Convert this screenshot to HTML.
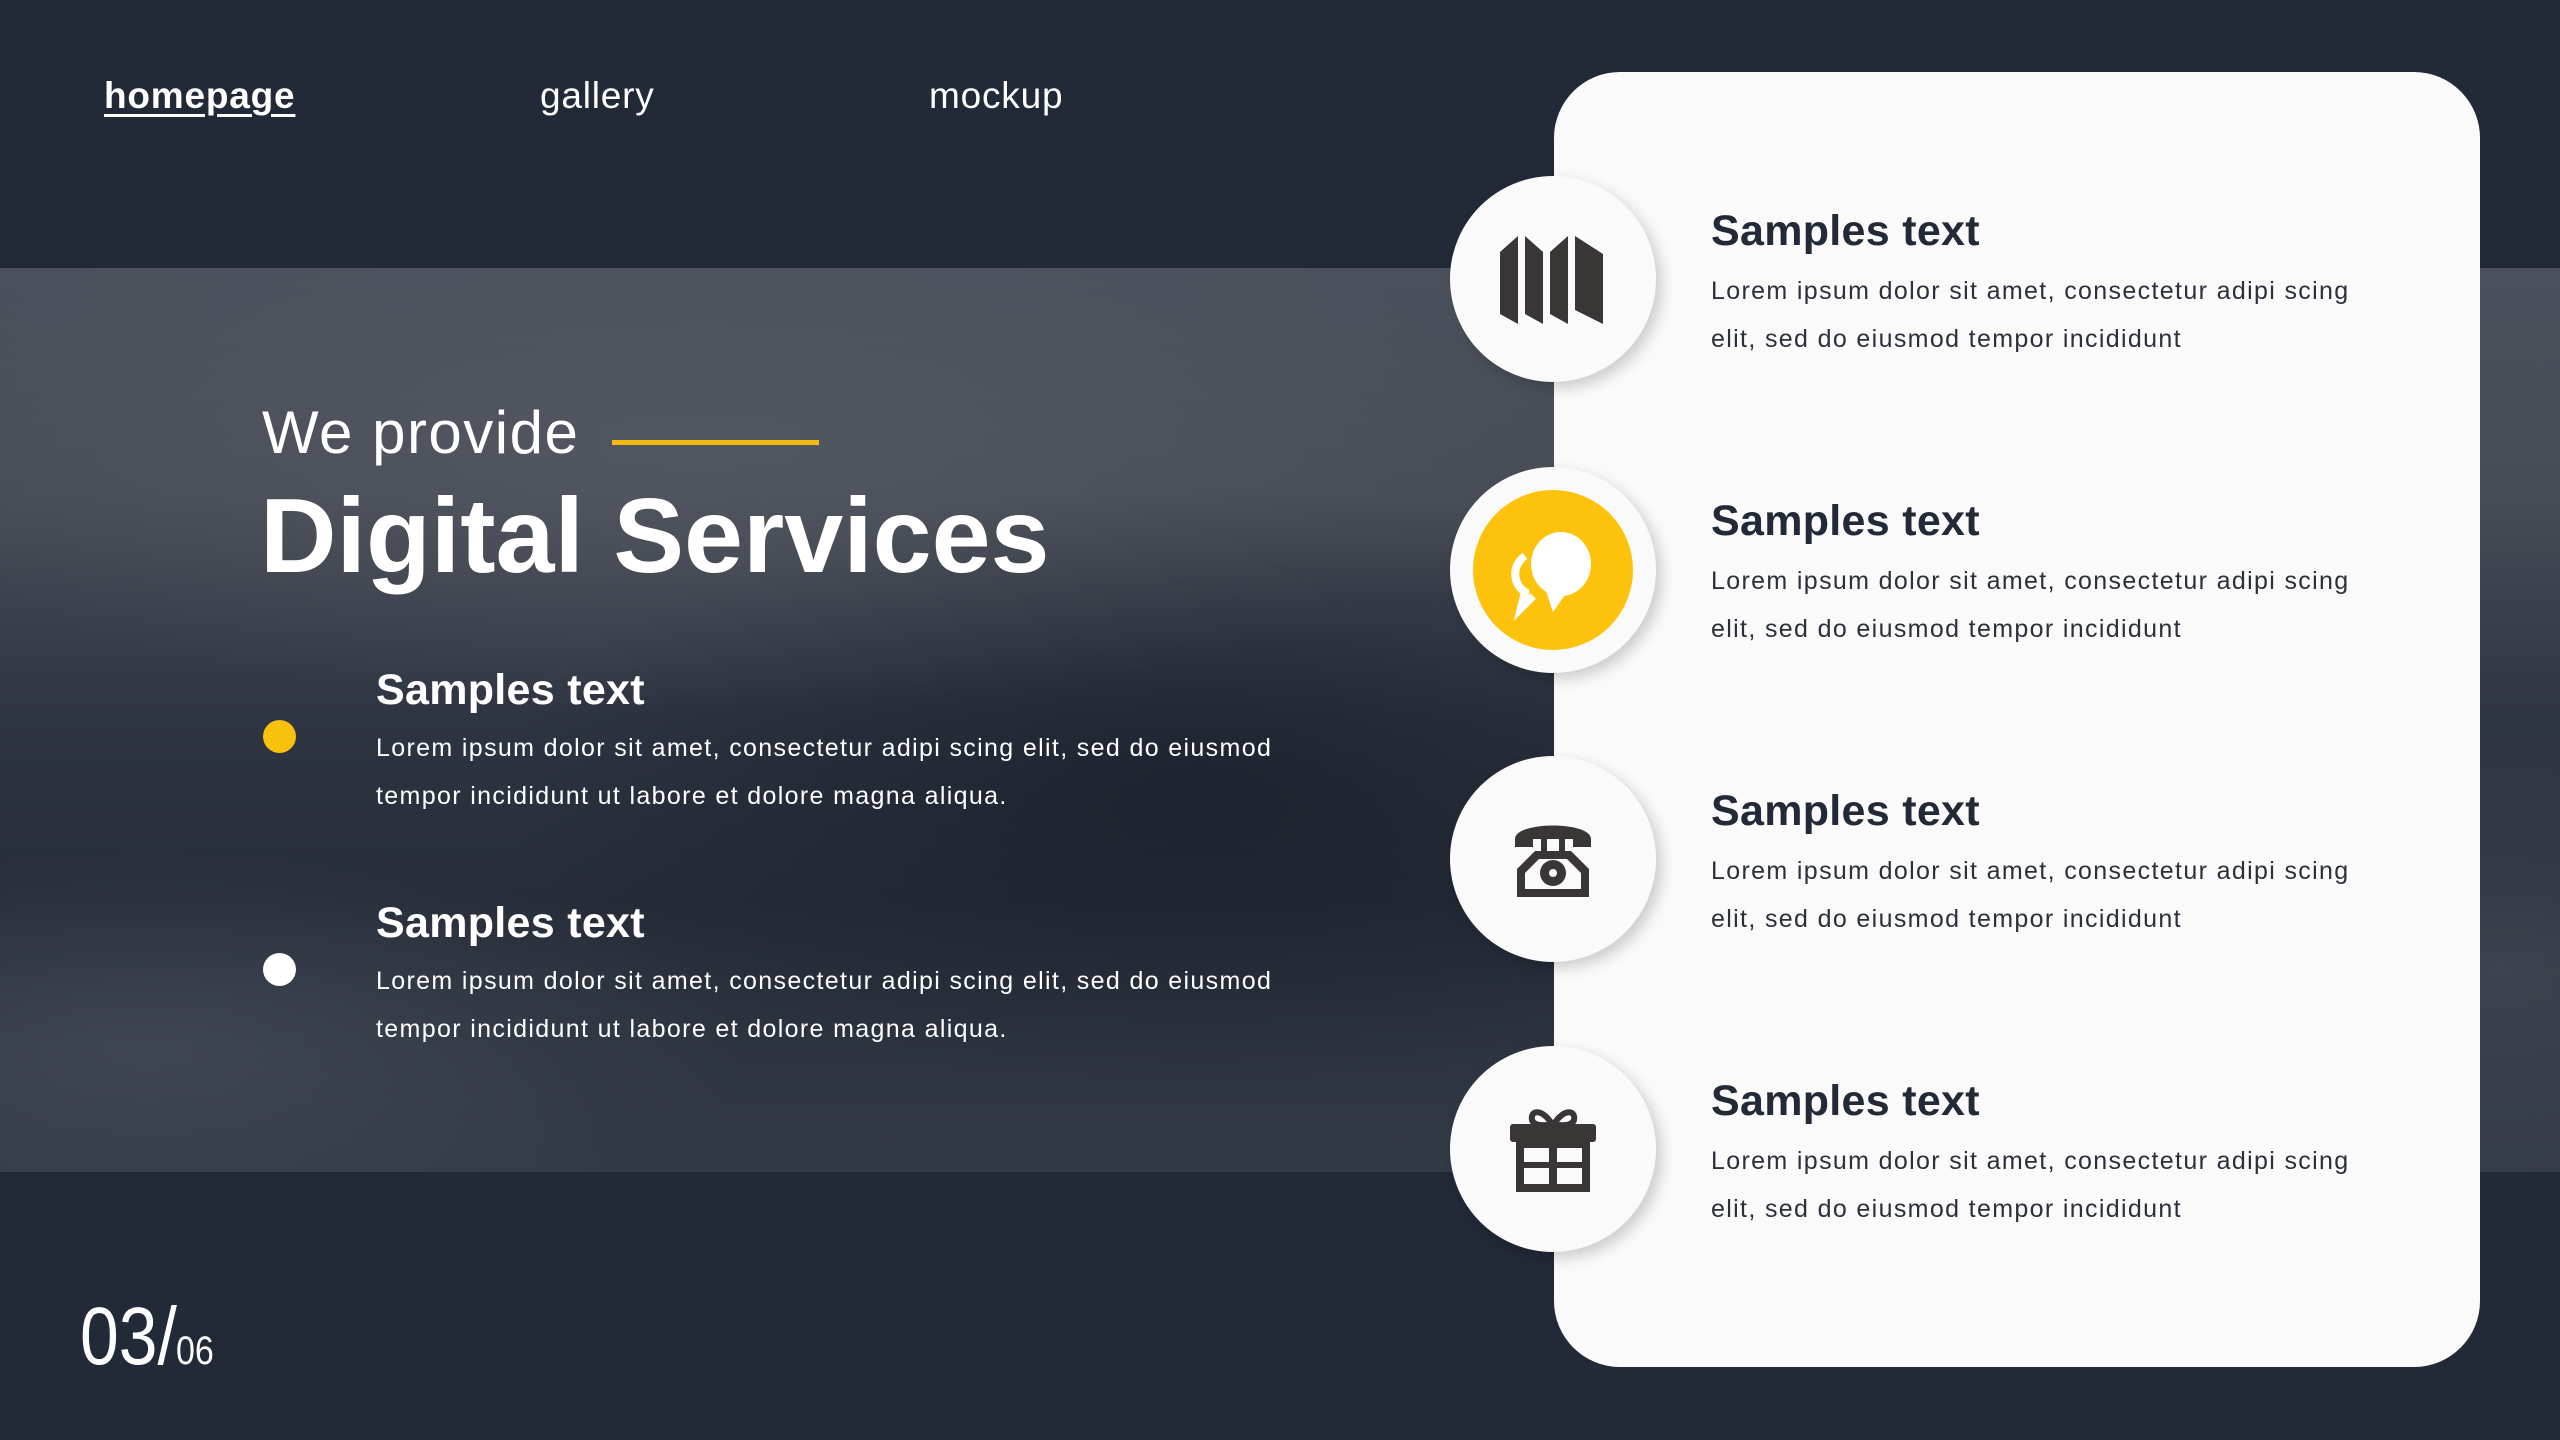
<!DOCTYPE html>
<html><head><meta charset="utf-8"><style>
*{margin:0;padding:0;box-sizing:border-box}
body{width:2560px;height:1440px;overflow:hidden;background:#222937;font-family:"Liberation Sans",sans-serif;position:relative}
.abs{position:absolute;white-space:nowrap}
.photo{position:absolute;left:0;top:268px;width:2560px;height:904px;
background:
radial-gradient(ellipse 900px 260px at 700px 180px,rgba(90,94,104,.55),rgba(0,0,0,0)),
radial-gradient(ellipse 700px 300px at 1200px 520px,rgba(20,26,36,.6),rgba(0,0,0,0)),
radial-gradient(ellipse 600px 200px at 150px 780px,rgba(80,88,100,.5),rgba(0,0,0,0)),
radial-gradient(ellipse 500px 250px at 2500px 700px,rgba(80,86,96,.5),rgba(0,0,0,0)),
linear-gradient(180deg,#4b515c 0%,#474c56 25%,#2e3542 50%,#262d39 70%,#323a46 100%)}
.nav{top:75px;font-size:37px;color:#fff;letter-spacing:0.8px}
.card{position:absolute;left:1554px;top:72px;width:926px;height:1295px;background:#fafafa;border-radius:66px}
.circ{position:absolute;left:1450px;width:206px;height:206px;border-radius:50%;background:#fafafa;box-shadow:6px 6px 14px rgba(0,0,0,.18);display:flex;align-items:center;justify-content:center}
.rt{position:absolute;left:1711px;font-size:43px;font-weight:bold;color:#232a37;letter-spacing:0.3px}
.rb{position:absolute;left:1711px;font-size:25px;color:#2b303a;line-height:48px;white-space:nowrap;letter-spacing:1.35px}
.lt{position:absolute;left:376px;font-size:43px;font-weight:bold;color:#fff;letter-spacing:0.3px}
.lb{position:absolute;left:376px;font-size:25px;color:#fff;line-height:48px;white-space:nowrap;letter-spacing:1.35px}
.dot{position:absolute;left:263px;width:33px;height:33px;border-radius:50%}
</style></head><body>
<div class="photo"></div>
<div class="abs nav" style="left:104px;font-weight:bold;text-decoration:underline;text-underline-offset:6px">homepage</div>
<div class="abs nav" style="left:540px">gallery</div>
<div class="abs nav" style="left:929px">mockup</div>

<div class="abs" style="left:262px;top:398px;font-size:60px;color:#fff;font-weight:300;letter-spacing:1.5px">We provide</div>
<div class="abs" style="left:612px;top:440px;width:207px;height:5px;background:#f4bb13"></div>
<div class="abs" style="left:260px;top:476px;font-size:106px;font-weight:bold;color:#fff;letter-spacing:0px">Digital Services</div>

<div class="dot" style="top:720px;background:#f7c10d"></div>
<div class="lt" style="top:666px">Samples text</div>
<div class="lb" style="top:724px">Lorem ipsum dolor sit amet, consectetur adipi scing elit, sed do eiusmod<br>tempor incididunt ut labore et dolore magna aliqua.</div>
<div class="dot" style="top:953px;background:#fff"></div>
<div class="lt" style="top:899px">Samples text</div>
<div class="lb" style="top:957px">Lorem ipsum dolor sit amet, consectetur adipi scing elit, sed do eiusmod<br>tempor incididunt ut labore et dolore magna aliqua.</div>

<div class="abs" style="left:80px;top:1290px;color:#fff;font-family:'Liberation Sans Narrow','Liberation Sans',sans-serif"><span style="font-size:82px;display:inline-block;transform:scaleX(.85);transform-origin:left">03/</span><span style="font-size:40px;margin-left:-18px;display:inline-block;transform:scaleX(.85);transform-origin:left">06</span></div>

<div class="card"></div>

<div class="circ" style="top:176px"><svg width="110" height="90" viewBox="0 0 110 90"><g fill="#3a3636"><polygon points="2,18 20,2 20,90 2,80"/><polygon points="27,2 45,18 45,90 27,80"/><polygon points="52,18 70,2 70,90 52,80"/><polygon points="77,2 105,20 105,90 77,76"/></g></svg></div>
<div class="circ" style="top:467px"><div style="width:160px;height:160px;border-radius:50%;background:#fdc20c;display:flex;align-items:center;justify-content:center"><svg width="100" height="100" viewBox="0 0 100 100"><path d="M22 36 C8 46 10 64 22 72 L18 88 L30 76" fill="none" stroke="#fff" stroke-width="8"/><ellipse cx="58" cy="44" rx="30" ry="32" fill="#fff"/><polygon points="42,68 50,92 64,72" fill="#fff"/></svg></div></div>
<div class="circ" style="top:756px"><svg width="84" height="84" viewBox="0 0 84 84"><g fill="#3a3636"><path d="M4 22 C4 4 80 4 80 22 L80 30 L62 30 L62 22 L22 22 L22 30 L4 30 Z"/><rect x="30" y="22" width="6" height="12"/><rect x="48" y="22" width="6" height="12"/><path d="M24 34 L60 34 L78 52 L78 80 L6 80 L6 52 Z M14 56 L14 72 L70 72 L70 56 L56 42 L28 42 Z" fill-rule="evenodd"/><circle cx="42" cy="56" r="13"/></g><circle cx="42" cy="56" r="4" fill="#fafafa"/></svg></div>
<div class="circ" style="top:1046px"><svg width="90" height="90" viewBox="0 0 90 90"><g fill="#3a3636"><path d="M44 20 C34 4 22 6 24 16 C26 22 36 22 44 20 Z M46 20 C56 4 68 6 66 16 C64 22 54 22 46 20 Z" fill="none" stroke="#3a3636" stroke-width="6"/><rect x="2" y="20" width="86" height="18" rx="3"/><path d="M8 38 L82 38 L82 88 L8 88 Z M16 44 L16 58 L41 58 L41 44 Z M49 44 L49 58 L74 58 L74 44 Z M16 64 L16 80 L41 80 L41 64 Z M49 64 L49 80 L74 80 L74 64 Z" fill-rule="evenodd"/></g></svg></div>

<div class="rt" style="top:207px">Samples text</div>
<div class="rb" style="top:267px">Lorem ipsum dolor sit amet, consectetur adipi scing<br>elit, sed do eiusmod tempor incididunt</div>
<div class="rt" style="top:497px">Samples text</div>
<div class="rb" style="top:557px">Lorem ipsum dolor sit amet, consectetur adipi scing<br>elit, sed do eiusmod tempor incididunt</div>
<div class="rt" style="top:787px">Samples text</div>
<div class="rb" style="top:847px">Lorem ipsum dolor sit amet, consectetur adipi scing<br>elit, sed do eiusmod tempor incididunt</div>
<div class="rt" style="top:1077px">Samples text</div>
<div class="rb" style="top:1137px">Lorem ipsum dolor sit amet, consectetur adipi scing<br>elit, sed do eiusmod tempor incididunt</div>
</body></html>
